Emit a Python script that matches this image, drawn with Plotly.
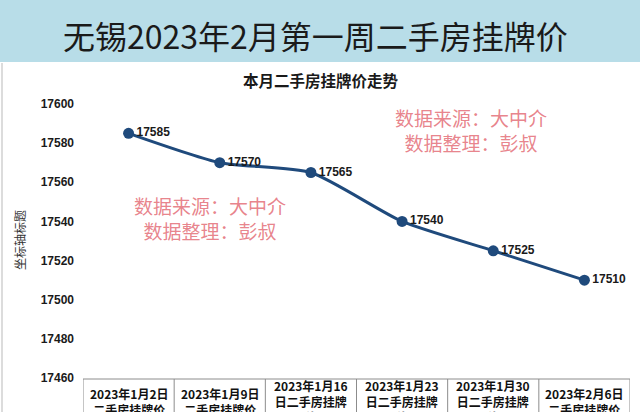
import plotly.graph_objects as go

# ---- data ----
title_text = "无锡2023年2月第一周二手房挂牌价"
subtitle_text = "本月二手房挂牌价走势"
categories = [
    "2023年1月2日二手房挂牌价",
    "2023年1月9日二手房挂牌价",
    "2023年1月16日二手房挂牌价",
    "2023年1月23日二手房挂牌价",
    "2023年1月30日二手房挂牌价",
    "2023年2月6日二手房挂牌价",
]
prices = [17585, 17570, 17565, 17540, 17525, 17510]
y_ticks = [17460, 17480, 17500, 17520, 17540, 17560, 17580, 17600]
y_title = "坐标轴标题"
watermark_lines = ["数据来源：大中介", "数据整理：彭叔"]

# ---- geometry helpers ----
W, H = 640, 412
L, R, T, B = 83, 10, 104, 34
PW, PH = W - L - R, H - T - B


def px(x):
    return (x - L) / PW


def py(y):
    return (H - B - y) / PH


def wrap(label, limit=6.0):
    lines, cur, w = [], "", 0.0
    for ch in label:
        cw = 0.5 if ch.isascii() else 1.0
        if w + cw > limit:
            lines.append(cur)
            cur, w = "", 0.0
        cur += ch
        w += cw
    if cur:
        lines.append(cur)
    return "<br>".join(lines)


x_idx = list(range(len(categories)))
line_color = "#1f4a7c"
cjk = "Noto Sans CJK SC"

fig = go.Figure()
fig.add_trace(go.Scatter(
    x=x_idx, y=prices,
    mode="lines+markers+text",
    line=dict(color=line_color, width=3, shape="spline", smoothing=0.6),
    marker=dict(color=line_color, size=11),
    text=["<b>" + str(v) + "</b>" for v in prices],
    textposition="middle right",
    textfont=dict(family="Liberation Sans", size=12, color="#1a1a1a"),
    cliponaxis=False,
    showlegend=False,
))

shapes = []
# title band
shapes.append(dict(type="rect", xref="paper", yref="paper",
                   x0=px(0), x1=px(W), y0=py(62), y1=py(0),
                   fillcolor="#b8dde8", line=dict(width=0), layer="below"))
# left border of chart area
shapes.append(dict(type="line", xref="paper", yref="paper",
                   x0=px(2), x1=px(2), y0=py(63), y1=py(H),
                   line=dict(color="#d0d0d0", width=1.5)))
# category table borders
shapes.append(dict(type="line", xref="x", yref="paper",
                   x0=-0.5, x1=len(categories) - 0.5, y0=py(379), y1=py(379),
                   line=dict(color="#8c8c8c", width=1)))
for i in range(len(categories) + 1):
    shapes.append(dict(type="line", xref="x", yref="paper",
                       x0=i - 0.5, x1=i - 0.5, y0=py(379), y1=py(440),
                       line=dict(color="#8c8c8c", width=1)))

annotations = []
annotations.append(dict(text=title_text, xref="paper", yref="paper",
                        x=px(315), y=py(35), xanchor="center", yanchor="middle",
                        showarrow=False,
                        font=dict(family=cjk, size=32, color="#1a1a1a")))
annotations.append(dict(text="<b>" + subtitle_text + "</b>", xref="paper", yref="paper",
                        x=px(321), y=py(80), xanchor="center", yanchor="middle",
                        showarrow=False,
                        font=dict(family=cjk, size=15.5, color="#1a1a1a")))
annotations.append(dict(text=y_title, xref="paper", yref="paper",
                        x=px(19), y=py(240), xanchor="center", yanchor="middle",
                        textangle=-90, showarrow=False,
                        font=dict(family=cjk, size=12, color="#333333")))
# watermarks (two lines in one text block)
for cx, cy in [(210, 218), (471, 130)]:
    annotations.append(dict(text="<br>".join(watermark_lines), xref="paper", yref="paper",
                            x=px(cx), y=py(cy), xanchor="center", yanchor="middle",
                            align="center", showarrow=False,
                            font=dict(family=cjk, size=19, color="rgba(226,100,110,0.8)")))
# category labels in table
for i, c in enumerate(categories):
    annotations.append(dict(text="<b>" + wrap(c) + "</b>", xref="x", yref="paper",
                            x=i, y=py(401), xanchor="center", yanchor="middle",
                            showarrow=False,
                            font=dict(family=cjk, size=12, color="#111111")))

fig.update_layout(
    width=W, height=H,
    margin=dict(l=L, r=R, t=T, b=B, pad=0),
    paper_bgcolor="white", plot_bgcolor="white",
    shapes=shapes, annotations=annotations,
    xaxis=dict(range=[-0.5, len(categories) - 0.5], showticklabels=False,
               showgrid=False, zeroline=False, showline=False, ticks=""),
    yaxis=dict(range=[y_ticks[0], y_ticks[-1]], tickvals=y_ticks,
               ticktext=["<b>" + str(v) + "</b>" for v in y_ticks],
               showgrid=False, zeroline=False, showline=False, ticks="",
               ticklabelstandoff=8,
               tickfont=dict(family="Liberation Sans", size=12, color="#1a1a1a")),
)

fig.write_html("out.html")
